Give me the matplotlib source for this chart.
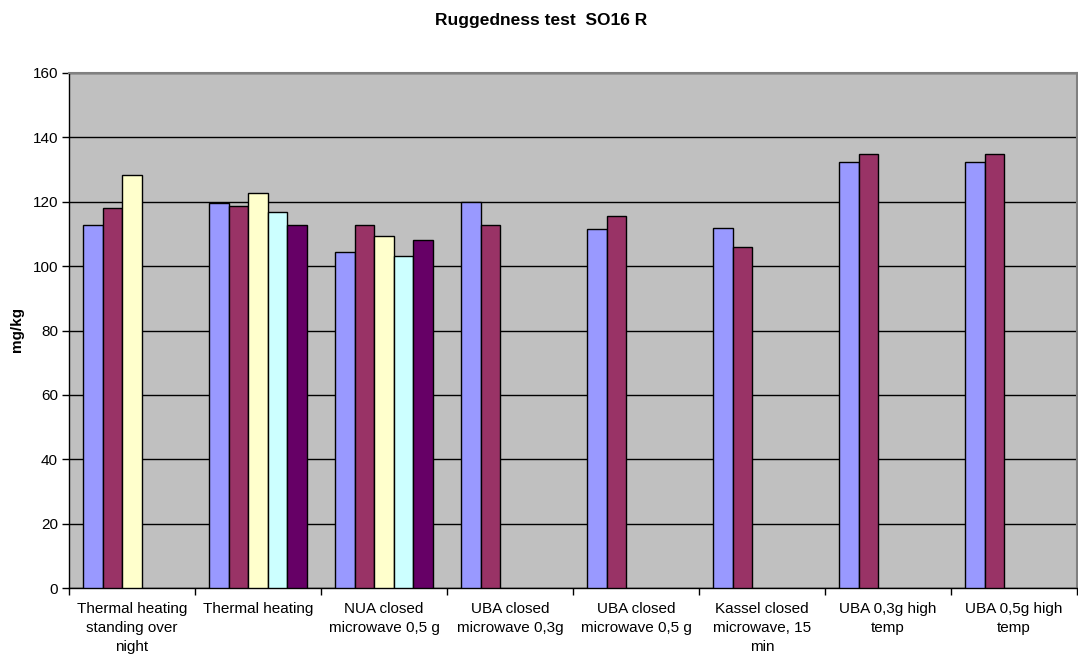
import numpy as np
import matplotlib
matplotlib.use("Agg")
import matplotlib.pyplot as plt

plt.rcParams['font.family'] = ['Liberation Sans', 'DejaVu Sans']

categories = ["Thermal heating\nstanding over\nnight", "Thermal heating",
              "NUA closed\nmicrowave 0,5 g", "UBA closed\nmicrowave 0,3g",
              "UBA closed\nmicrowave 0,5 g", "Kassel closed\nmicrowave, 15\nmin",
              "UBA 0,3g high\ntemp", "UBA 0,5g high\ntemp"]

nan = np.nan
# one list per replicate, nan where no result exists
rep1 = [112.9, 119.5, 104.3, 120.0, 111.6, 111.9, 132.3, 132.3]
rep2 = [118.1, 118.8, 112.7, 112.8, 115.7, 106.0, 134.9, 134.9]
rep3 = [128.2, 122.8, 109.3, nan, nan, nan, nan, nan]
rep4 = [nan, 116.8, 103.2, nan, nan, nan, nan, nan]
rep5 = [nan, 112.9, 108.0, nan, nan, nan, nan, nan]
series = [rep1, rep2, rep3, rep4, rep5]
colors = ['#9999FF', '#993366', '#FFFFCC', '#CCFFFF', '#660066']

fig = plt.figure(figsize=(10.78, 6.55), dpi=100)
ax = fig.add_axes([69/1078, 1 - 588/655, (1077 - 69)/1078, (588 - 73)/655])
ax.set_facecolor('#C0C0C0')

x = np.arange(len(categories))
w = 0.154
for j, vals in enumerate(series):
    ax.bar(x + (j - 2) * w, vals, width=w, color=colors[j],
           edgecolor='black', linewidth=1.0, zorder=3)

ax.set_xlim(-0.5, len(categories) - 0.5)
ax.set_ylim(0, 160)
ax.set_yticks(np.arange(0, 161, 20))
ax.yaxis.grid(True, color='black', linewidth=1.0, zorder=1)
ax.set_axisbelow(True)

ax.set_xticks(x)
ax.set_xticklabels(categories, fontsize=11, linespacing=1.45)
ax.set_xticks(np.arange(-0.5, len(categories)), minor=True)
ax.tick_params(axis='x', which='major', length=0, pad=10)
ax.tick_params(axis='x', which='minor', length=5, width=1, direction='out')
ax.tick_params(axis='y', length=5, width=1, labelsize=11, pad=3)

for s in ['left', 'bottom']:
    ax.spines[s].set_color('black')
    ax.spines[s].set_linewidth(1.0)
for s in ['top', 'right']:
    ax.spines[s].set_color('#808080')
    ax.spines[s].set_linewidth(1.5)

fig.text(17/1078, 1 - 330/655, 'mg/kg', rotation=90, ha='center', va='center',
         fontsize=11, fontweight='bold')
fig.text(541/1078, 1 - 21/655, 'Ruggedness test  SO16 R', ha='center', va='center',
         fontsize=12.5, fontweight='bold')

fig.savefig('out.png', dpi=100, facecolor='white')
